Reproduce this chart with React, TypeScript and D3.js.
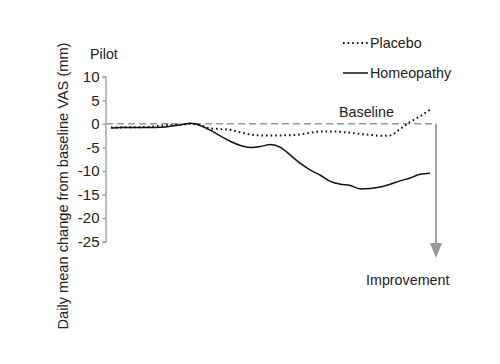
import * as d3 from 'd3'
import { useRef, useEffect } from 'react'

const days = d3.range(0, 33)
const placebo = [-0.8, -0.75, -0.7, -0.7, -0.6, -0.4, -0.2, -0.2, 0, -0.3, -1.0, -1.1, -1.3, -1.8, -2.25, -2.45, -2.45,
  -2.45, -2.4, -2.25, -1.9, -1.6, -1.6, -1.7, -1.9, -2.15, -2.35, -2.55, -2.45, -1.1, 0.4, 1.6, 3.0]
const homeopathy = [-0.86, -0.75, -0.75, -0.75, -0.75, -0.7, -0.5, -0.2, 0.1, -0.4, -1.4, -2.6, -3.75, -4.6, -5.0, -4.8, -4.4,
  -5.0, -6.65, -8.4, -9.8, -10.9, -12.2, -12.8, -13.1, -13.8, -13.7, -13.4, -12.8, -12.1, -11.5, -10.7, -10.5]
const yTicks = [10, 5, 0, -5, -10, -15, -20, -25]

const W = 500, H = 364
const font = 'Liberation Sans, Arial, sans-serif'
const fs = 14.3

const App = () => {
  const yAxis = useRef(null)

  const xScale = d3.scaleLinear().domain([0, 32]).range([111, 430])
  const yScale = d3.scaleLinear().domain([-25, 10]).range([241.7, 76.7])

  const line = d3.line<number>()
    .x((d, i) => xScale(days[i]))
    .y(d => yScale(d))
    .curve(d3.curveMonotoneX)

  useEffect(() => {
    const g = d3.select(yAxis.current)
    g.call(d3.axisLeft(yScale).tickValues(yTicks).tickSize(3).tickPadding(3).tickFormat(d => `${d}`))
    g.selectAll('path').attr('stroke', '#999').attr('stroke-width', 1.3)
    g.selectAll('line').attr('stroke', '#999').attr('stroke-width', 1.3)
    g.selectAll('text').attr('font-size', 15).attr('font-family', font).attr('fill', '#222')
  })

  const y0 = yScale(0)
  const arrowX = 436

  return (
    <svg width={W} height={H} style={{ position: 'absolute', left: 0, top: 0 }}>
      <rect width={W} height={H} fill="white" />
      <g ref={yAxis} transform="translate(105.5,0)" />
      <line x1={106} x2={arrowX} y1={y0} y2={y0} stroke="#999" strokeWidth={1.5} strokeDasharray="7,4" />
      <line x1={arrowX} x2={arrowX} y1={y0} y2={246} stroke="#999" strokeWidth={1.8} />
      <path d={`M${arrowX - 6},243 L${arrowX + 6},243 L${arrowX},258 Z`} fill="#999" />
      <path d={line(homeopathy) ?? ''} fill="none" stroke="#111" strokeWidth={1.5} />
      <path d={line(placebo) ?? ''} fill="none" stroke="#111" strokeWidth={2} strokeDasharray="1.6,3" />
      <text x={90} y={59} fontSize={fs} fontFamily={font} fill="#222">Pilot</text>
      <text x={339} y={117} fontSize={fs} fontFamily={font} fill="#222">Baseline</text>
      <text x={366} y={285} fontSize={fs} fontFamily={font} fill="#222">Improvement</text>
      <line x1={343} x2={368} y1={43} y2={43} stroke="#111" strokeWidth={2} strokeDasharray="1.6,3" />
      <text x={370} y={48} fontSize={fs} fontFamily={font} fill="#222">Placebo</text>
      <line x1={343} x2={368} y1={73} y2={73} stroke="#111" strokeWidth={1.5} />
      <text x={370} y={78} fontSize={fs} fontFamily={font} fill="#222">Homeopathy</text>
      <text transform="translate(68,186) rotate(-90)" textAnchor="middle" fontSize={14.6} fontFamily={font} fill="#222">
        Daily mean change from baseline VAS (mm)
      </text>
    </svg>
  )
}

export default App
